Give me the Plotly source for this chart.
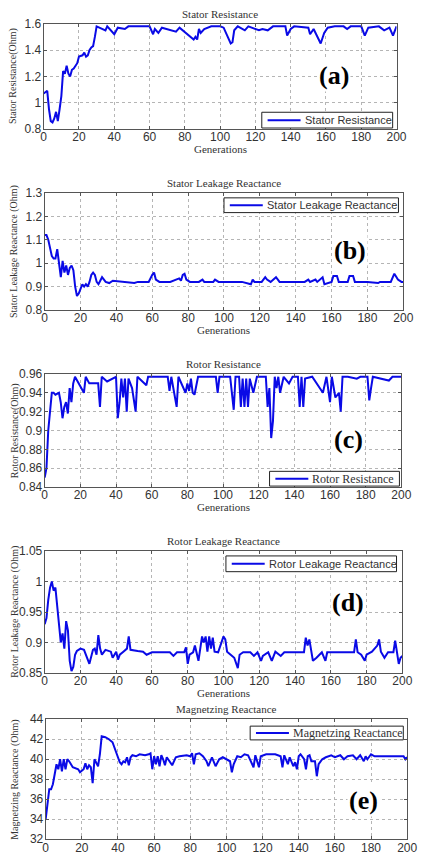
import plotly.graph_objects as go

# ---------------- data ----------------
gen_a = [0,1,2,3,4,5,6,7,8,9,10,11,12,13,14,15,16,17,18,19,20,22,23,24,25,26,27,28,29,30,
         35,36,40,42,46,48,60,62,63,65,67,75,77,85,86,87,88,89,91,95,100,102,106,107,108,110,
         114,116,122,124,127,130,137,138,140,142,150,151,153,157,159,161,165,170,172,174,180,
         182,184,190,193,196,198,199,200]
stator_res = [1.07,1.08,1.09,0.95,0.86,0.85,0.88,0.93,0.86,0.95,1.05,1.24,1.22,1.28,1.22,1.20,1.25,1.26,1.28,1.30,1.35,1.36,1.38,1.35,1.36,1.40,1.42,1.43,1.50,1.58,
              1.55,1.58,1.52,1.57,1.56,1.58,1.58,1.52,1.56,1.53,1.57,1.54,1.57,1.48,1.50,1.48,1.56,1.53,1.56,1.58,1.58,1.57,1.45,1.46,1.55,1.58,
              1.55,1.58,1.55,1.56,1.55,1.58,1.58,1.51,1.56,1.58,1.57,1.52,1.56,1.45,1.53,1.57,1.58,1.58,1.56,1.58,1.58,
              1.51,1.57,1.58,1.55,1.57,1.51,1.54,1.58]

gen_b = [0,1,2,3,4,5,6,7,8,9,10,11,12,13,14,15,16,17,18,19,20,21,22,23,24,25,26,27,28,29,30,32,34,36,38,45,50,52,58,
         60,61,62,64,70,73,75,76,77,78,79,81,86,88,89,94,95,97,110,115,116,117,121,123,124,126,128,129,131,140,145,
         147,148,151,152,155,156,160,161,163,164,169,170,172,173,180,186,187,193,195,197,199,200]
stator_leak = [1.12,1.12,1.10,1.06,1.03,1.02,1.02,1.06,1.00,0.94,1.01,0.96,0.99,0.95,0.98,0.99,0.97,0.90,0.86,0.87,0.89,0.91,0.90,0.91,0.90,0.92,0.95,0.96,0.95,0.92,0.91,0.94,0.92,0.915,0.925,0.92,0.915,0.92,0.92,
               0.95,0.96,0.93,0.92,0.92,0.93,0.935,0.925,0.95,0.955,0.93,0.92,0.92,0.93,0.92,0.92,0.93,0.92,0.92,0.91,0.93,0.92,0.92,0.94,0.93,0.92,0.935,0.94,0.92,0.92,0.92,
               0.93,0.92,0.93,0.92,0.94,0.91,0.92,0.945,0.945,0.92,0.92,0.945,0.945,0.92,0.92,0.915,0.92,0.92,0.955,0.93,0.92,0.92]

gen_c = [0,1,2,3,4,5,6,8,9,10,11,12,13,14,15,16,17,22,23,25,30,31,32,35,40,41,42,43,44,45,46,47,49,51,52,57,58,
         69,70,71,74,75,78,79,80,81,82,83,84,86,96,97,98,104,106,107,109,110,111,112,113,114,115,117,119,
         124,125,126,127,128,129,130,131,132,134,137,139,142,143,144,145,146,150,153,156,158,160,161,163,165,166,167,
         170,175,177,181,182,183,184,193,195,200]
rotor_res = [0.85,0.86,0.90,0.92,0.94,0.94,0.938,0.94,0.93,0.913,0.925,0.93,0.918,0.945,0.93,0.95,0.957,0.94,0.957,0.95,0.95,0.925,0.957,0.952,0.957,0.913,0.93,0.955,0.935,0.955,0.92,0.955,0.945,0.92,0.957,0.948,0.957,
             0.957,0.942,0.957,0.925,0.957,0.945,0.94,0.95,0.942,0.955,0.94,0.938,0.957,0.957,0.94,0.957,0.957,0.922,0.957,0.957,0.925,0.955,0.925,0.955,0.925,0.955,0.94,0.957,
             0.957,0.925,0.945,0.892,0.91,0.957,0.945,0.957,0.94,0.957,0.95,0.957,0.957,0.925,0.957,0.925,0.955,0.957,0.948,0.94,0.957,0.93,0.957,0.935,0.94,0.92,0.957,
             0.957,0.955,0.957,0.957,0.932,0.945,0.957,0.953,0.957,0.957]

gen_d = [0,1,2,3,4,5,6,7,8,9,10,11,12,13,14,15,16,17,18,20,22,23,25,27,28,29,30,31,32,34,37,38,40,41,42,44,46,47,48,52,55,57,60,
         70,72,74,78,79,80,81,83,84,85,86,88,89,90,91,92,93,94,95,97,99,100,101,102,104,106,108,109,111,115,117,119,121,122,125,127,129,132,134,
         145,146,147,148,149,150,152,155,157,158,165,173,174,175,177,179,180,183,186,187,188,190,192,195,196,197,198,199,200]
rotor_leak = [0.93,0.94,0.97,0.99,1.0,0.985,0.99,0.96,0.92,0.90,0.915,0.89,0.935,0.92,0.87,0.853,0.86,0.88,0.886,0.89,0.888,0.88,0.865,0.888,0.89,0.88,0.912,0.89,0.88,0.888,0.885,0.875,0.885,0.872,0.88,0.885,0.89,0.91,0.888,0.886,0.885,0.88,0.884,
              0.884,0.878,0.884,0.884,0.892,0.865,0.88,0.884,0.895,0.88,0.87,0.91,0.90,0.91,0.885,0.91,0.89,0.908,0.885,0.884,0.90,0.91,0.905,0.885,0.88,0.875,0.858,0.88,0.884,0.884,0.878,0.884,0.87,0.878,0.884,0.87,0.885,0.878,0.884,
              0.884,0.908,0.895,0.905,0.885,0.87,0.875,0.884,0.87,0.884,0.884,0.884,0.905,0.884,0.88,0.87,0.88,0.885,0.895,0.905,0.885,0.875,0.884,0.884,0.903,0.885,0.865,0.875,0.878]

gen_e = [0,1,2,3,4,5,6,7,8,9,10,11,12,13,15,18,19,21,22,23,24,25,26,27,29,30,31,33,35,37,38,40,41,42,43,44,45,46,47,48,50,52,55,57,58,59,60,
         61,62,63,64,65,66,67,70,72,74,78,80,81,82,83,85,87,89,90,92,94,96,98,100,102,103,104,106,108,110,112,115,116,118,119,122,127,
         130,131,132,134,135,137,138,139,140,141,143,144,145,146,147,149,150,151,153,155,158,160,163,165,167,170,172,174,176,177,178,180,182,190,198,199,200]
magnet = [34,35.5,37,37,37.5,38.5,39.5,39,40,38.8,40,39,40,39.8,39.2,39,38.7,39,39.6,39.0,39.4,39.2,37.6,40,39.3,40.5,42.3,42.2,42,41.7,41.2,40.2,39.7,39.5,39.8,39.7,40.2,39.4,40.2,40.4,40.3,40.5,40.4,40.5,40.6,39,40.3,
          39.5,40.3,39.3,40.4,40,39.4,40.2,39.4,40.2,40.3,40.4,40.3,40.6,39.5,40.5,40.6,40.3,39.8,39.3,40.2,39.3,40,40.2,40,39.8,38.7,39.5,40.3,40.2,40.5,40.4,39.2,40.4,39.2,40.3,40.5,40.5,
          40.3,39.2,40.4,39.5,40.2,39.3,39.7,39.0,40.3,40.5,40,39,40.3,40.4,39.8,39.8,38.3,39.5,40,40.2,40.4,40.2,40.4,40,40.3,40.4,40,40.4,39.8,40.3,40,40.5,40.3,40.3,40.3,40,40.2]

titles = ["Stator Resistance", "Stator Leakage Reactance", "Rotor Resistance",
          "Rotor Leakage Reactance", "Magnetzing Reactance"]
ytitles = ["Stator Resistance(Ohm)", "Stator Leakage Reactance (Ohm)", "Rotor Resistance(Ohm)",
           "Rotor Leakage Reactance (Ohm)", "Magnetzing Reactance (Ohm)"]
legend_names = ["Stator Resistance", "Stator Leakage Reactance", "Rotor Resistance",
                "Rotor Leakage Reactance", "Magnetzing Reactance"]
panel_tags = ["(a)", "(b)", "(c)", "(d)", "(e)"]
y_ranges = [[0.8, 1.6], [0.8, 1.3], [0.84, 0.96], [0.85, 1.05], [32, 44]]
y_dticks = [0.2, 0.1, 0.02, 0.05, 2]
x_ticks = [0, 20, 40, 60, 80, 100, 120, 140, 160, 180, 200]

gens = [gen_a, gen_b, gen_c, gen_d, gen_e]
series = [stator_res, stator_leak, rotor_res, rotor_leak, magnet]

# ---------------- layout geometry (pixels) ----------------
W, H = 423, 862
boxes = [(42, 406, 17, 124), (43, 413, 189, 308), (43, 411, 373, 488),
         (43, 412, 553, 677), (44, 417, 724, 846)]
legend_rects = [(267, 402, 107, 123), (228, 408, 194, 209), (275, 409, 472, 487),
                (230, 406, 558, 574), (255, 413, 731, 745)]
legend_serif = [False, False, True, False, True]
legend_size = [11, 11, 12, 11, 12]
tag_pos = [(341, 70), (358, 248), (356, 440), (356, 605), (372, 807)]
show_xtitle = [True, True, True, True, False]

def px(x):
    return x / W

def py(y):
    return 1 - y / H

SERIF = "Liberation Serif, Times New Roman, serif"
SANS = "Liberation Sans, Arial, sans-serif"
LINE = "#0a0ae6"

fig = go.Figure()
annotations = []
shapes = []
layout = dict(width=W, height=H, margin=dict(l=0, r=0, t=0, b=0),
              paper_bgcolor="white", plot_bgcolor="white", showlegend=False)

for i in range(5):
    k = "" if i == 0 else str(i + 1)
    xa, ya = "x" + k, "y" + k
    fig.add_trace(go.Scatter(x=gens[i], y=series[i], mode="lines", name=legend_names[i],
                             line=dict(color=LINE, width=2), xaxis=xa, yaxis=ya))
    l, r, t, b = boxes[i]
    axis_common = dict(showline=True, linecolor="#555", linewidth=1, mirror="ticks",
                       ticks="inside", ticklen=3, tickcolor="#555",
                       showgrid=True, gridcolor="#b5b5b5", griddash="dot", gridwidth=1,
                       zeroline=False, tickfont=dict(family=SANS, size=12, color="#333"))
    layout["xaxis" + k] = dict(domain=[px(l), px(r)], anchor=ya, range=[0, 200],
                               tickvals=x_ticks, ticktext=[str(v) for v in x_ticks],
                               ticklabelstandoff=-3, **axis_common)
    layout["yaxis" + k] = dict(domain=[py(b), py(t)], anchor=xa, range=y_ranges[i],
                               dtick=y_dticks[i], tick0=y_ranges[i][0],
                               ticklabelstandoff=-1, **axis_common)
    # legend drawn as box + sample line + text
    ll, lr, lt, lb = legend_rects[i]
    shapes.append(dict(type="rect", xref="paper", yref="paper", layer="above",
                       x0=px(ll), x1=px(lr), y0=py(lb), y1=py(lt),
                       line=dict(color="#222", width=1), fillcolor="white"))
    shapes.append(dict(type="line", xref="paper", yref="paper", layer="above",
                       x0=px(ll + 6), x1=px(ll + 40), y0=py((lt + lb) / 2), y1=py((lt + lb) / 2),
                       line=dict(color=LINE, width=2)))
    annotations.append(dict(text=legend_names[i], xref="paper", yref="paper",
                            x=px(ll + 42), y=py((lt + lb) / 2), xanchor="left", yanchor="middle",
                            showarrow=False,
                            font=dict(family=SERIF if legend_serif[i] else SANS,
                                      size=legend_size[i], color="#333")))
    # subplot title
    annotations.append(dict(text=titles[i], xref="paper", yref="paper",
                            x=px((l + r) / 2), y=py(t - 10), xanchor="center", yanchor="middle",
                            showarrow=False, font=dict(family=SERIF, size=11, color="#333")))
    # x title
    if show_xtitle[i]:
        annotations.append(dict(text="Generations", xref="paper", yref="paper",
                                x=px((l + r) / 2), y=py(b + 20), xanchor="center", yanchor="middle",
                                showarrow=False, font=dict(family=SERIF, size=11, color="#333")))
    # y title
    annotations.append(dict(text=ytitles[i], xref="paper", yref="paper",
                            x=px(l - 31), y=py((t + b) / 2), xanchor="center", yanchor="middle",
                            textangle=-90, showarrow=False,
                            font=dict(family=SERIF, size=10, color="#333")))
    # panel tag
    tx, ty = tag_pos[i]
    annotations.append(dict(text="<b>" + panel_tags[i] + "</b>", xref="paper", yref="paper",
                            x=px(tx), y=py(ty), xanchor="center", yanchor="middle",
                            showarrow=False, bgcolor="white",
                            font=dict(family=SERIF, size=26, color="black")))

layout["annotations"] = annotations
layout["shapes"] = shapes
fig.update_layout(**layout)
fig.write_html("out.html")
